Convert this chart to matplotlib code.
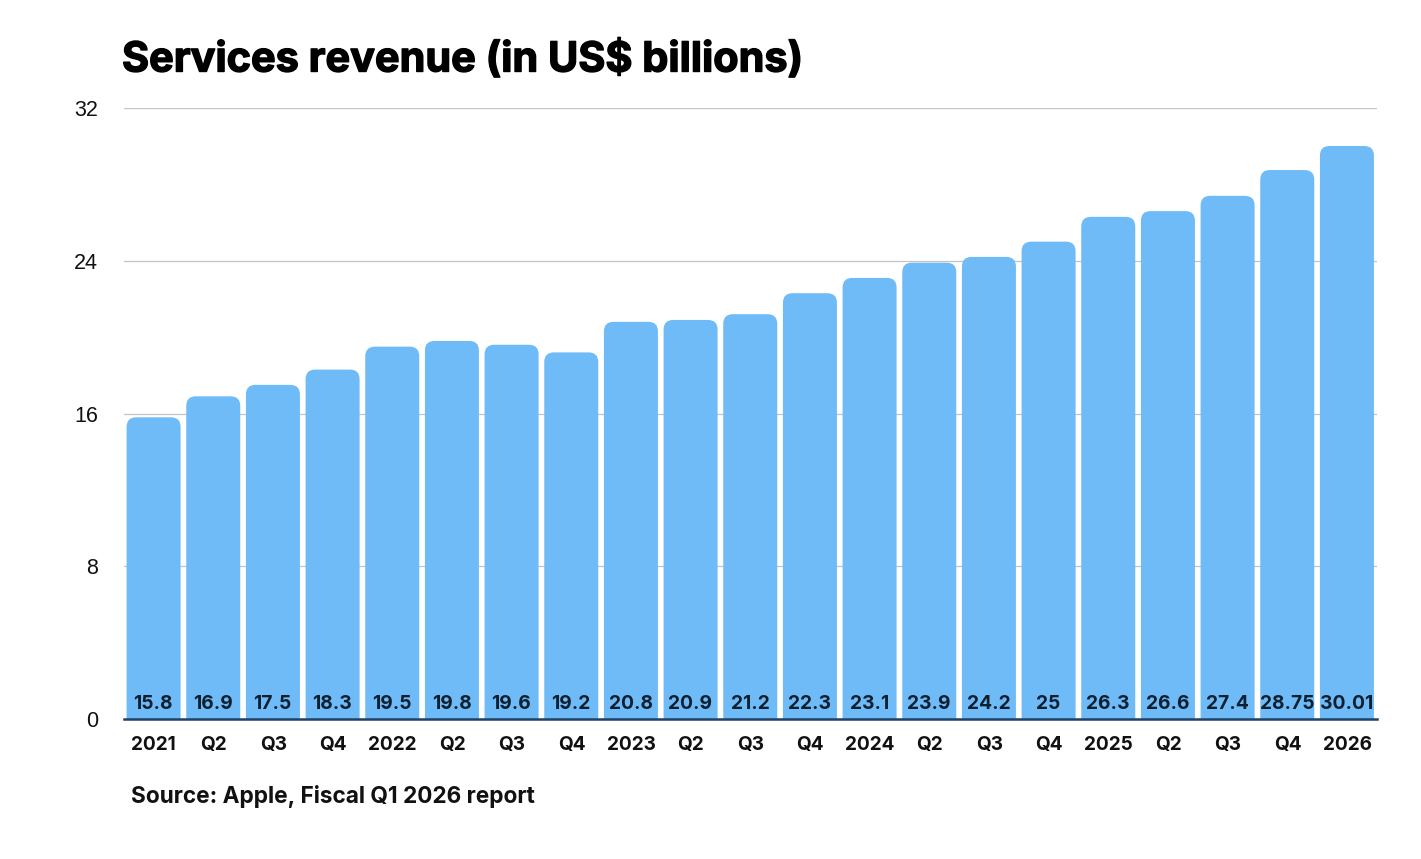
import matplotlib
matplotlib.use('Agg')
import matplotlib.pyplot as plt
import matplotlib.patheffects as pe
from matplotlib.patches import FancyBboxPatch

W, H = 1421, 859

quarters = ['2021', 'Q2', 'Q3', 'Q4', '2022', 'Q2', 'Q3', 'Q4', '2023', 'Q2', 'Q3', 'Q4',
            '2024', 'Q2', 'Q3', 'Q4', '2025', 'Q2', 'Q3', 'Q4', '2026']
revenue = [15.8, 16.9, 17.5, 18.3, 19.5, 19.8, 19.6, 19.2, 20.8, 20.9, 21.2, 22.3,
           23.1, 23.9, 24.2, 25, 26.3, 26.6, 27.4, 28.75, 30.01]
y_ticks = [0, 8, 16, 24, 32]

plt.rcParams['font.family'] = ['Inter', 'Liberation Sans', 'DejaVu Sans']

fig = plt.figure(figsize=(W / 100, H / 100), dpi=100)
ax = fig.add_axes([124 / W, 1 - 719 / H, (1377 - 124) / W, (719 - 108) / H])

bar_width = 0.905
for i, v in enumerate(revenue):
    # rounded top corners only, the bottom is clipped by the axes
    box = FancyBboxPatch((i - 0.004 - bar_width / 2, -3), bar_width, v + 3,
                         boxstyle='round,pad=0,rounding_size=0.16',
                         mutation_aspect=32 / 611 * 59.7,
                         facecolor='#6fbbf7', edgecolor='none', zorder=2)
    ax.add_patch(box)
    ax.text(i - 0.01, 0.8, str(v), ha='center', va='center', fontsize=13.9, fontweight='bold',
            color='#0e2030', zorder=3)

ax.set_xlim(-0.5, len(revenue) - 0.5)
ax.set_ylim(0, 32)
ax.set_yticks(y_ticks)
ax.set_xticks(range(len(quarters)))
ax.set_xticklabels(quarters, fontsize=13.7, fontweight='bold', color='#111111')
ax.tick_params(axis='x', length=0, pad=12)
ax.tick_params(axis='y', length=0, pad=18.5, labelsize=15.5, labelcolor='#111111')
for lab in ax.get_yticklabels():
    lab.set_family(['Liberation Sans', 'DejaVu Sans'])
ax.grid(axis='y', color='#c4c4c4', linewidth=0.9, zorder=1)
ax.set_axisbelow(True)
for side in ['top', 'right', 'left']:
    ax.spines[side].set_visible(False)
ax.spines['bottom'].set_color('#1d4468')
ax.spines['bottom'].set_linewidth(1.8)
ax.spines['bottom'].set_zorder(4)

title = fig.text(122 / W, 1 - 59.5 / H, 'Services revenue (in US$ billions)', fontsize=29.8,
                 fontweight='bold', color='black', va='center', ha='left')
title.set_path_effects([pe.withStroke(linewidth=1.0, foreground='black')])
fig.text(131 / W, 1 - 796 / H, 'Source: Apple, Fiscal Q1 2026 report', fontsize=16.3,
         fontweight='bold', color='#111111', va='center', ha='left')

fig.savefig('out.png', dpi=100, facecolor='white')
